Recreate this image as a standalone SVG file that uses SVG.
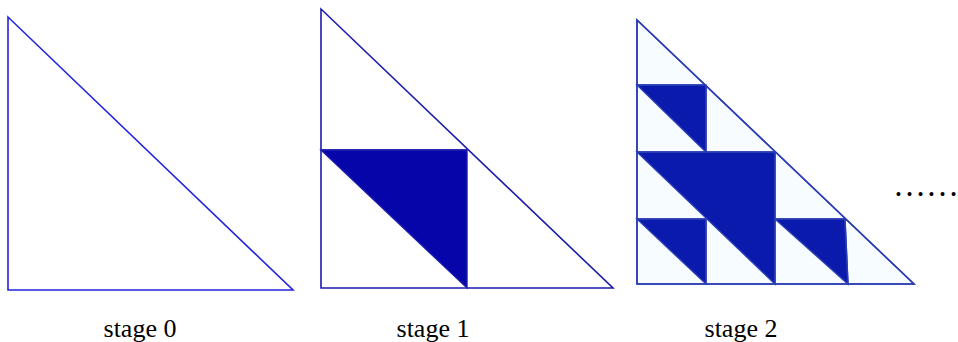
<svg xmlns="http://www.w3.org/2000/svg" width="958" height="342" viewBox="0 0 958 342">
<style>
.s0{fill:#ffffff;stroke:#2323e0;stroke-width:1.6}
.s1{fill:#ffffff;stroke:#1c1cac;stroke-width:1.6}
.d1{fill:#0505aa;stroke:#1c1cac;stroke-width:1.4}
.l2{fill:#f6fcff;stroke:#2b3cb4;stroke-width:1.4}
.d2{fill:#0a1aad;stroke:#2b3cb4;stroke-width:1.4}
.lbl{font-family:"Liberation Serif","Times New Roman",serif;font-size:26px;fill:#000;text-anchor:middle}
</style>
<g id="stage0">
<polygon class="s0" points="8,17 8,290 293,290"/>
<text class="lbl" x="140" y="337">stage 0</text>
</g>
<g id="stage1">
<polygon class="s1" points="321,9 321,288 613,288"/>
<polygon class="d1" points="321,150 467,150 467,288"/>
<line class="s1" x1="321" y1="150" x2="467" y2="150"/>
<text class="lbl" x="433" y="337">stage 1</text>
</g>
<g id="stage2">
<polygon class="l2" points="637,20 637,284 914,284"/>
<polygon class="d2" points="637,85 706,85 706,152"/>
<polygon class="d2" points="637,152 775,152 775,284"/>
<polygon class="d2" points="637,219 706,219 706,284"/>
<polygon class="d2" points="775,219 845,219 848,284"/>
<g fill="none" stroke="#2b3cb4" stroke-width="1.4">
<line x1="637" y1="85" x2="706" y2="85"/>
<line x1="637" y1="152" x2="775" y2="152"/>
<line x1="637" y1="219" x2="706" y2="219"/>
<line x1="775" y1="219" x2="845" y2="219"/>
<line x1="706" y1="85" x2="706" y2="152"/>
<line x1="706" y1="219" x2="706" y2="284"/>
<line x1="775" y1="152" x2="775" y2="284"/>
<line x1="845" y1="219" x2="848" y2="284"/>
</g>
<polygon fill="none" stroke="#2b3cb4" stroke-width="1.6" points="637,20 637,284 914,284"/>
<text class="lbl" x="741" y="337">stage 2</text>
</g>
<text x="893" y="196" font-family="Liberation Serif, serif" font-size="33" fill="#000">……</text>
</svg>
